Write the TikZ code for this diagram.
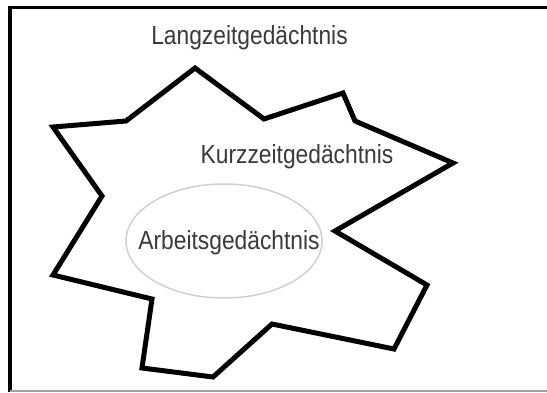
\documentclass[tikz,border=0pt]{standalone}
\usepackage{fontspec}
\setmainfont{Liberation Sans}
\definecolor{txtgrey}{HTML}{3A3A3A}
\definecolor{ellgrey}{HTML}{D0D0D0}
\definecolor{botgrey}{HTML}{A0A0A0}
\tikzset{
  label text/.style={font=\fontsize{22.8}{26}\selectfont, text=txtgrey, inner sep=0pt},
  star outline/.style={line width=5pt, line join=miter, black},
  memory ellipse/.style={draw=ellgrey, line width=1.5pt}
}
\newcommand{\tallt}[1]{\scalebox{1}[1.15]{#1}}
\begin{document}
\begin{tikzpicture}[x=1pt,y=-1pt]
\useasboundingbox (0,0) rectangle (547,392);
\fill[white] (0,0) rectangle (547,392);
% frame
\draw[black, line width=3.5pt] (10,392) -- (10,7.3) -- (547,7.3);
\draw[botgrey, line width=1.5pt] (10,391) -- (547,391);
% star polygon
\draw[star outline]
  (195,68) -- (264,119) -- (343,93) -- (355,121) -- (453,163)
  -- (335,231) -- (427,285) -- (394,349) -- (272,324) -- (213,377)
  -- (142,368) -- (152,299) -- (53,275) -- (102,196) -- (53,127)
  -- (126,121) -- cycle;
% ellipse
\draw[memory ellipse] (224,241) ellipse [x radius=98, y radius=57];
% labels
\node[label text] (lzg) at (249.5,38) {\tallt{Langzeitgedächtnis}};
\node[label text] (kzg) at (297,157) {\tallt{Kurzzeitgedächtnis}};
\node[label text] (azg) at (229,243) {\tallt{Arbeitsgedächtnis}};
\end{tikzpicture}
\end{document}
